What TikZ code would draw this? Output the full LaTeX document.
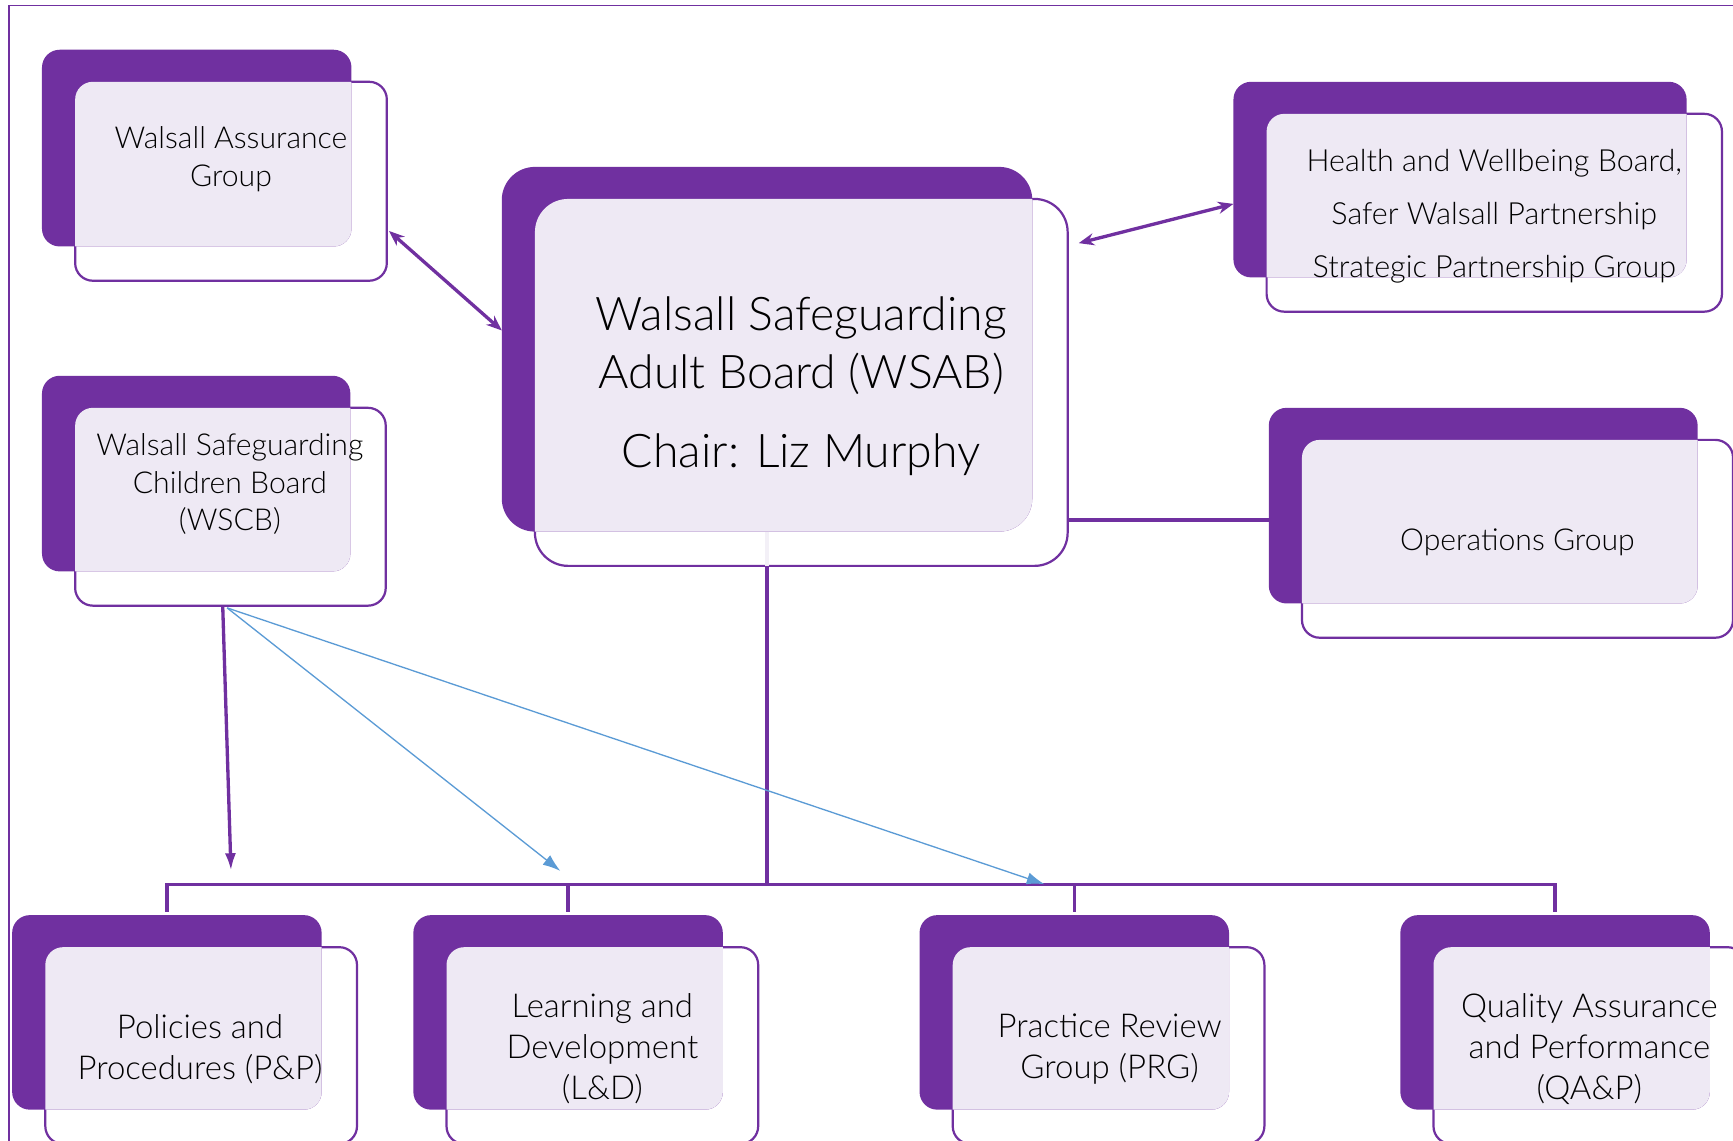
\documentclass[tikz,border=0pt]{standalone}
\usepackage{fontspec}
\setmainfont{Lato Light}
\usetikzlibrary{arrows.meta,calc}
\definecolor{wpurple}{HTML}{7030A0}
\definecolor{wlav}{HTML}{EEE9F4}
\definecolor{wblue}{HTML}{5B9BD5}
\tikzset{
  backbox/.style={fill=wpurple, draw=none, inner sep=0, outer sep=0, anchor=north west},
  frontbox/.style={fill=white, draw=wpurple, line width=2pt, inner sep=0, outer sep=0, anchor=north west},
  txt/.style={align=center, text=black, inner sep=0},
  smalltxt/.style={txt, font=\fontsize{27.3}{34}\selectfont},
  bottxt/.style={txt, font=\fontsize{29.8}{37}\selectfont},
  link/.style={draw=wpurple, line width=3pt},
  bluelink/.style={draw=wblue, line width=1.2pt, -{Latex[length=16pt,width=11pt]}},
  duo/.style={link, {Stealth[length=14pt,width=11pt]}-{Stealth[length=14pt,width=11pt]}},
}
% #1 name, #2 x, #3 y (top-left of back box), #4 width, #5 height, #6 corner radius
\newcommand\wbox[6]{%
  \node[frontbox, minimum width={(#4+2)*1pt}, minimum height={(#5+2)*1pt}, rounded corners=#6pt] (#1f) at ({#2+30},{#3+29}) {};
  \node[backbox, minimum width=#4pt, minimum height=#5pt, rounded corners=#6pt] (#1) at (#2,#3) {};
  \begin{scope}
    \clip[rounded corners=#6pt] (#2,#3) rectangle ++(#4,#5);
    \fill[wlav, rounded corners=#6pt] ({#2+30},{#3+29}) rectangle ++(#4,#5);
  \end{scope}}
\begin{document}
\begin{tikzpicture}[x=1pt, y=-1pt]
\useasboundingbox (0,0) rectangle (1568,1032);
\clip (0,0) rectangle (1568,1032);
\draw[draw=wpurple, line width=1.5pt] (8,1040) -- (8,5) -- (1580,5);

\wbox{wag}{38}{45}{280}{178}{16}
\wbox{wsab}{454}{151}{480}{330}{30}
\wbox{hwb}{1116}{74}{410}{177}{16}
\wbox{ops}{1148}{369}{388}{177}{16}
\wbox{wscb}{38}{340}{279}{177}{16}
\wbox{pp}{11}{828}{280}{176}{16}
\wbox{ld}{374}{828}{280}{176}{16}
\wbox{prg}{832}{828}{280}{176}{16}
\wbox{qa}{1267}{828}{280}{176}{16}

\node[smalltxt] (twag) at (209,144) {Walsall Assurance\\Group};
\node[txt, font=\fontsize{42}{53}\selectfont] (twsab) at (725,349) {Walsall Safeguarding\\Adult Board (WSAB)\\[18pt]Chair: Liz Murphy};
\node[txt, font=\fontsize{27.6}{48}\selectfont] (thwb) at (1352,196) {Health and Wellbeing Board,\\Safer Walsall Partnership\\Strategic Partnership Group};
\node[smalltxt] (tops) at (1373,491) {Operations Group};
\node[smalltxt] (twscb) at (208,438) {Walsall Safeguarding\\Children Board\\(WSCB)};
\node[bottxt] (tpp) at (181,949) {Policies and\\Procedures (P\&P)};
\node[bottxt] (tld) at (545,949) {Learning and\\Development\\(L\&D)};
\node[bottxt] (tprg) at (1004,949) {Practice Review\\Group (PRG)};
\node[bottxt] (tqa) at (1438,949) {Quality Assurance\\and Performance\\(QA\&P)};

% connectors
\draw[duo] ([xshift=2pt,yshift=45pt]wagf.south east) -- ([yshift=17pt]wsab.west);
\draw[duo] ([xshift=10pt,yshift=-40pt]wsabf.north east) -- ([yshift=-22pt]hwb.west);
\draw[link] ([yshift=-13pt]ops.west) -- ([yshift=-13pt]ops.west -| wsabf.east);

\coordinate (bus) at (694,800);
\draw[draw=wlav!70!white, line width=3pt] (wsab.south) -- (wsab.south |- wsabf.south);
\draw[link] (wsab.south |- wsabf.south) -- (bus);
\draw[link] ([yshift=3pt]pp.north) |- (bus) -| ([yshift=3pt]qa.north);
\draw[link] ([yshift=3pt]ld.north) -- (ld.north |- bus);
\draw[link] ([yshift=3pt]prg.north) -- (prg.north |- bus);

\coordinate (ppin) at (209,788);
\coordinate (ldin) at (507,788);
\coordinate (prgin) at (945,800);
\draw[link, -{Latex[length=16pt,width=10pt]}] ([xshift=-7pt]wscbf.south) -- (ppin);
\draw[bluelink] ([xshift=-3pt,yshift=-2pt]wscbf.south) -- (ldin);
\draw[bluelink] ([xshift=-3pt,yshift=-2pt]wscbf.south) -- (prgin);
\end{tikzpicture}
\end{document}
